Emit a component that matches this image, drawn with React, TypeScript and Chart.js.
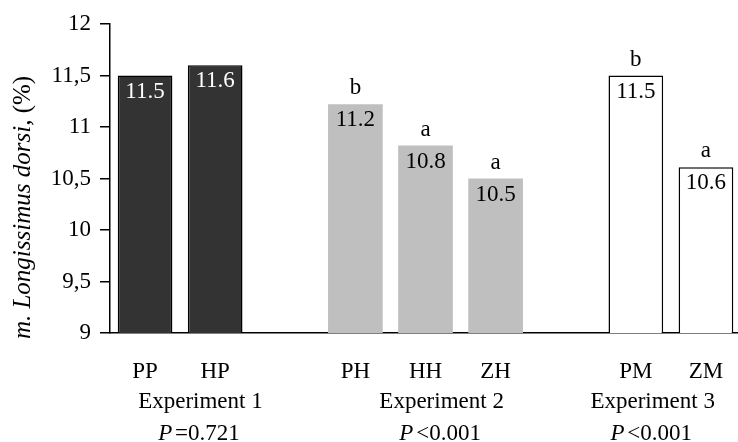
import React, { useEffect, useRef } from "react";
import { Chart, registerables } from "chart.js";

Chart.register(...registerables);

const categories = ["PP", "HP", "", "PH", "HH", "ZH", "", "PM", "ZM"];
const values = [11.5, 11.6, null, 11.22, 10.82, 10.5, null, 11.5, 10.61];
const valueLabels = ["11.5", "11.6", "", "11.2", "10.8", "10.5", "", "11.5", "10.6"];
const letters = ["", "", "", "b", "a", "a", "", "b", "a"];
const fills = ["#333333", "#333333", "#ffffff", "#bfbfbf", "#bfbfbf", "#bfbfbf", "#ffffff", "#ffffff", "#ffffff"];
const borders = ["#000000", "#000000", "#000000", "#bfbfbf", "#bfbfbf", "#bfbfbf", "#000000", "#000000", "#000000"];
const borderWidths = [1.5, 1.5, 0, 0, 0, 0, 0, 1.5, 1.5];
const labelColors = ["#ffffff", "#ffffff", "#000000", "#000000", "#000000", "#000000", "#000000", "#000000", "#000000"];
const groupNames = ["Experiment 1", "Experiment 2", "Experiment 3"];
const groupP = ["=0.721", "<0.001", "<0.001"];
const groupCenters = [0.79, 4.23, 7.24];
const yMin = 9;
const yMax = 12;
const yStep = 0.5;
const yTitleItalic = "m. Longissimus dorsi,";
const yTitleNormal = " (%)";

const FONT = "'Liberation Serif', 'Times New Roman', serif";
const FS = 23;

const labelPlugin = {
  id: "customLabels",
  afterDatasetsDraw(chart: any) {
    const ctx = chart.ctx;
    const meta = chart.getDatasetMeta(0);
    ctx.save();
    ctx.textAlign = "center";
    ctx.textBaseline = "alphabetic";
    ctx.font = `${FS}px ${FONT}`;
    meta.data.forEach((el: any, i: number) => {
      if (values[i] === null) return;
      ctx.fillStyle = labelColors[i];
      ctx.fillText(valueLabels[i], el.x, el.y + 22);
      if (letters[i]) {
        ctx.fillStyle = "#000000";
        ctx.fillText(letters[i], el.x, el.y - 10);
      }
    });
    ctx.restore();
  },
  afterDraw(chart: any) {
    const ctx = chart.ctx;
    const xs = chart.scales.x;
    const area = chart.chartArea;
    ctx.save();
    ctx.fillStyle = "#000000";
    ctx.textBaseline = "alphabetic";
    ctx.font = `${FS}px ${FONT}`;
    ctx.textAlign = "center";
    categories.forEach((c, i) => {
      if (!c) return;
      ctx.fillText(c, xs.getPixelForValue(i), area.bottom + 45);
    });
    groupNames.forEach((g, i) => {
      const cx = xs.getPixelForValue(groupCenters[i]);
      ctx.textAlign = "center";
      ctx.font = `${FS}px ${FONT}`;
      ctx.fillText(g, cx, area.bottom + 75);
      ctx.font = `italic ${FS}px ${FONT}`;
      const wP = ctx.measureText("P ").width;
      ctx.font = `${FS}px ${FONT}`;
      const wR = ctx.measureText(groupP[i]).width;
      const start = cx - (wP + wR) / 2;
      ctx.textAlign = "left";
      ctx.font = `italic ${FS}px ${FONT}`;
      ctx.fillText("P", start, area.bottom + 107);
      ctx.font = `${FS}px ${FONT}`;
      ctx.fillText(groupP[i], start + wP - 3, area.bottom + 107);
    });
    // y title
    const cy = (area.top + area.bottom) / 2 + 29;
    ctx.translate(30, cy);
    ctx.rotate(-Math.PI / 2);
    ctx.font = `italic 25px ${FONT}`;
    const w1 = ctx.measureText(yTitleItalic).width;
    ctx.font = `25px ${FONT}`;
    const w2 = ctx.measureText(yTitleNormal).width;
    const s = -(w1 + w2) / 2;
    ctx.textAlign = "left";
    ctx.font = `italic 25px ${FONT}`;
    ctx.fillText(yTitleItalic, s, 0);
    ctx.font = `25px ${FONT}`;
    ctx.fillText(yTitleNormal, s + w1, 0);
    ctx.restore();
  },
};

export default function App() {
  const ref = useRef<HTMLCanvasElement>(null);
  useEffect(() => {
    if (!ref.current) return;
    const chart = new Chart(ref.current, {
      type: "bar",
      data: {
        labels: categories,
        datasets: [
          {
            data: values as any,
            backgroundColor: fills,
            borderColor: borders,
            borderWidth: borderWidths,
            borderSkipped: "start",
            categoryPercentage: 1,
            barPercentage: 0.78,
          },
        ],
      },
      options: {
        responsive: false,
        animation: false,
        devicePixelRatio: 1,
        layout: { padding: { top: 24, right: 1, bottom: 0, left: 0 } },
        plugins: { legend: { display: false }, tooltip: { enabled: false } },
        scales: {
          x: {
            ticks: { display: false },
            grid: { display: false },
            border: { display: true, color: "#000000", width: 1.5 },
            afterFit(scale: any) {
              scale.height = 109;
            },
          },
          y: {
            min: yMin,
            max: yMax,
            ticks: {
              stepSize: yStep,
              color: "#000000",
              font: { family: FONT, size: FS },
              padding: 9,
              callback: (v: any) => String(v).replace(".", ","),
            },
            grid: {
              display: true,
              drawOnChartArea: false,
              drawTicks: true,
              tickLength: 10,
              color: "#000000",
              lineWidth: 1.5,
            },
            border: { display: true, color: "#000000", width: 1.5 },
            afterFit(scale: any) {
              scale.width = 110;
            },
          },
        },
      },
      plugins: [labelPlugin],
    });
    return () => chart.destroy();
  }, []);
  return (
    <div style={{ position: "absolute", left: 0, top: 0, width: 738, height: 442, overflow: "hidden", background: "#ffffff" }}>
      <canvas ref={ref} width={742} height={442} style={{ display: "block", width: 742, height: 442 }} />
    </div>
  );
}
